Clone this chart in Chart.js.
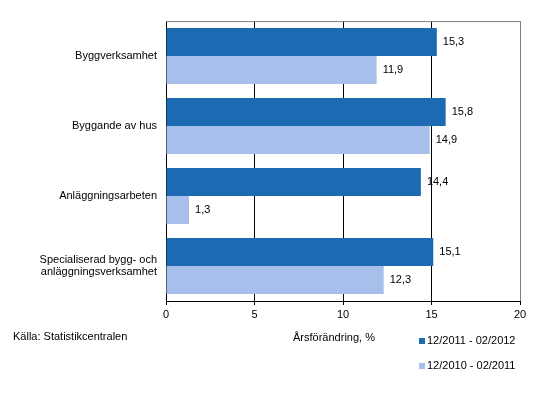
<!DOCTYPE html>
<html>
<head>
<meta charset="utf-8">
<script src="https://cdn.jsdelivr.net/npm/chart.js@4"></script>
<style>
  body{margin:0;background:#fff}
  #wrap{width:538px;height:402px}
</style>
</head>
<body>
<div id="wrap"><canvas id="data_chart" width="538" height="402"></canvas></div>
<script>
const categories=['Byggverksamhet','Byggande av hus','Anläggningsarbeten',['Specialiserad bygg- och','anläggningsverksamhet']]
const seriesNames=['12/2011 - 02/2012','12/2010 - 02/2011']
const values_2012=[15.3,15.8,14.4,15.1]
const values_2011=[11.9,14.9,1.3,12.3]
const xTicks=[0,5,10,15,20]

const FONT='11px "Liberation Sans", Arial, sans-serif'
const darkBlue='#1b6ab2'
const lightBlue='#a9bfeb'

// value labels + frame + legend/source text
const extras={
  id:'extras',
  afterDatasetsDraw(chart){
    const ctx=chart.ctx
    ctx.save()
    ctx.font=FONT
    ctx.fillStyle='#000'
    ctx.textBaseline='middle'
    ctx.textAlign='left'
    chart.data.datasets.forEach((ds,i)=>{
      chart.getDatasetMeta(i).data.forEach((bar,j)=>{
        const txt=ds.data[j].toFixed(1).replace('.',',')
        ctx.fillText(txt,bar.x+6,bar.y)
      })
    })
    ctx.restore()
  },
  afterDraw(chart){
    const ctx=chart.ctx
    const a=chart.chartArea
    ctx.save()
    // top border
    ctx.strokeStyle='#808080'
    ctx.lineWidth=1
    ctx.beginPath()
    ctx.moveTo(a.left,a.top+0.5)
    ctx.lineTo(a.right+0.5,a.top+0.5)
    ctx.stroke()

    ctx.font=FONT
    ctx.fillStyle='#000'
    ctx.textBaseline='middle'
    ctx.textAlign='left'
    ctx.fillText('Källa: Statistikcentralen',13,337)
    ctx.textAlign='center'
    ctx.fillText('Årsförändring, %',334,338)

    // legend
    const cols=[darkBlue,lightBlue]
    const ys=[341,366]
    ctx.textAlign='left'
    seriesNames.forEach((n,i)=>{
      ctx.fillStyle=cols[i]
      ctx.fillRect(419,ys[i]-3,6,6)
      ctx.fillStyle='#000'
      ctx.fillText(n,427,ys[i])
    })
    ctx.restore()
  }
}

const data_chart=new Chart('data_chart',{
  type:'bar',
  data:{
    labels:categories,
    datasets:[
      {label:seriesNames[0],data:values_2012,backgroundColor:darkBlue,borderWidth:0,categoryPercentage:0.8,barPercentage:1},
      {label:seriesNames[1],data:values_2011,backgroundColor:lightBlue,borderWidth:0,categoryPercentage:0.8,barPercentage:1}
    ]
  },
  options:{
    indexAxis:'y',
    responsive:false,
    animation:false,
    devicePixelRatio:1,
    layout:{padding:{top:17,right:18,left:0,bottom:0}},
    plugins:{legend:{display:false},tooltip:{enabled:false}},
    scales:{
      x:{
        min:xTicks[0],max:xTicks[xTicks.length-1],
        afterBuildTicks(scale){scale.ticks=xTicks.map(v=>({value:v}))},
        afterFit(scale){scale.height=101},
        grid:{
          color:c=>c.tick&&c.tick.value===20?'#808080':'#000',
          tickColor:'#000',
          tickLength:4,
          lineWidth:1
        },
        border:{display:true,color:'#000',width:1},
        ticks:{font:{family:'"Liberation Sans", Arial, sans-serif',size:11},color:'#000',padding:3,maxRotation:0}
      },
      y:{
        afterFit(scale){scale.width=166},
        grid:{display:false,drawTicks:false},
        border:{display:true,color:'#000',width:1},
        ticks:{font:{family:'"Liberation Sans", Arial, sans-serif',size:11,lineHeight:1.1},color:'#000',padding:9}
      }
    }
  },
  plugins:[extras]
})
</script>
</body>
</html>
